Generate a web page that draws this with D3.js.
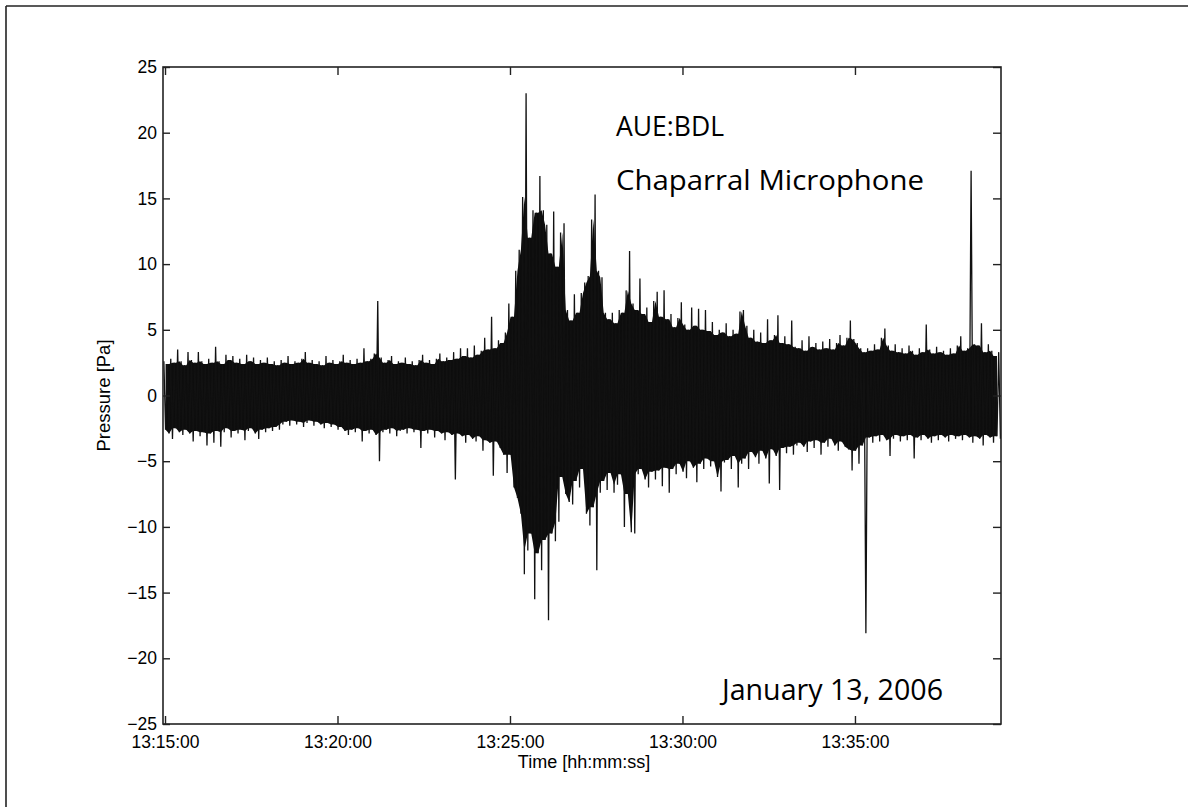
<!DOCTYPE html>
<html><head><meta charset="utf-8">
<script src="https://cdn.jsdelivr.net/npm/d3@7"></script>
<style>body{margin:0;background:#fff}svg{display:block}</style>
</head><body>
<svg id="c" width="1188" height="807"></svg>
<script>
// ---- data ----
const recordStart = "13:14:58";      // time of first envelope bin
const binSeconds = 6;                // width of one envelope bin
const xDomain = ["13:14:56.5", "13:39:14"];
// upper envelope (max pressure per bin, Pa)
const upperEnvelope = [
2.6,2.4,2.8,2.5,3.5,2.6,2.3,3.3,2.7,2.5,3.3,2.6,2.4,2.8,2.5,3.7,2.6,2.4,3.1,2.7,
3.0,2.5,2.8,2.4,3.1,2.6,2.9,2.4,2.7,2.5,2.9,2.4,2.6,2.3,2.7,2.5,3.0,2.4,2.6,2.5,
2.8,3.3,2.5,2.7,2.4,2.6,2.3,3.0,2.5,2.7,2.4,2.6,3.1,2.5,2.7,2.4,2.8,2.5,3.6,2.6,
2.8,3.2,7.2,2.9,2.5,2.7,3.0,2.4,2.6,2.5,2.9,2.4,2.6,2.3,2.7,3.1,2.5,2.7,2.4,2.8,
3.2,2.6,2.9,2.7,3.3,2.8,3.6,3.0,3.6,2.9,3.8,3.1,3.4,4.4,3.5,6.0,3.6,4.2,4.0,
4.8,7.0,6.0,9.5,11.1,15.1,23.0,12.0,14.1,13.9,16.7,14.1,13.0,10.8,14.0,9.8,12.4,13.1,6.5,5.7,
7.7,6.3,7.8,8.6,9.1,13.4,15.3,9.5,9.0,6.3,5.8,6.3,5.5,6.5,6.3,8.0,11.0,7.0,6.5,8.9,
6.2,6.7,5.6,7.2,7.9,6.0,8.0,5.8,6.2,5.2,5.9,7.1,5.4,5.0,6.7,5.3,6.6,5.0,6.5,4.9,
5.6,4.6,5.0,4.8,5.5,4.5,5.0,4.7,6.4,6.5,5.3,4.4,5.0,4.1,4.8,4.0,5.8,4.2,4.6,6.1,
4.0,4.5,3.9,5.7,3.7,
3.6,4.2,3.4,4.5,3.7,4.0,3.5,4.1,3.6,4.3,3.5,4.0,4.6,3.8,4.4,5.7,4.3,4.0,3.6,3.3,
3.6,3.4,3.9,3.5,4.4,5.1,3.8,3.4,3.9,3.3,3.6,3.2,3.8,3.4,3.1,3.6,3.3,5.4,3.5,3.2,
3.7,3.3,3.4,3.1,3.6,3.2,3.8,4.5,3.4,3.6,17.1,3.9,3.8,5.5,3.3,3.9,3.4,3.0,3.3
];
// lower envelope (min pressure per bin, Pa)
const lowerEnvelope = [
-2.6,-2.9,-3.3,-2.5,-2.8,-3.0,-2.6,-2.9,-3.5,-2.7,-3.1,-2.8,-3.8,-2.9,-3.6,-2.7,-3.9,-2.8,-2.5,-3.2,
-2.7,-2.9,-2.6,-3.4,-2.7,-2.5,-2.9,-3.3,-2.6,-2.8,-2.5,-2.7,-2.4,-2.6,-2.2,-2.0,-2.3,-1.9,-2.2,-2.0,
-2.4,-2.1,-1.9,-2.3,-2.0,-2.2,-2.5,-2.1,-2.4,-2.2,-2.6,-2.4,-2.7,-3.0,-2.6,-2.8,-2.5,-3.5,-2.7,-2.9,
-2.6,-3.0,-5.0,-2.8,-2.6,-2.9,-2.5,-3.1,-2.7,-2.6,-2.9,-2.5,-2.8,-2.6,-4.0,-2.7,-2.9,-2.6,-3.2,-2.7,
-2.9,-3.4,-2.8,-3.0,-6.4,-2.9,-3.1,-3.6,-3.0,-3.3,-3.5,-3.1,-4.2,-3.4,-3.6,-6.1,-3.5,-4.0,-4.5,
-5.9,-4.5,-7.0,-7.8,-9.0,-13.6,-11.8,-10.5,-15.5,-12.0,-13.3,-11.0,-17.1,-10.5,-11.1,-9.6,-6.2,-7.5,-8.1,-8.3,
-6.5,-7.0,-5.6,-9.0,-9.9,-8.5,-13.3,-7.4,-6.5,-7.2,-5.9,-7.4,-6.8,-6.0,-10.0,-7.5,-10.4,-10.5,-6.0,-5.6,
-6.4,-7.0,-5.8,-6.4,-5.7,-6.9,-5.5,-7.4,-5.6,-6.0,-5.2,-5.8,-6.3,-5.0,-5.5,-6.6,-5.2,-5.6,-4.8,-5.4,
-5.0,-6.2,-7.3,-5.1,-4.9,-5.6,-4.6,-7.0,-5.2,-4.8,-5.6,-4.3,-4.7,-5.2,-4.2,-4.8,-6.7,-4.1,-4.6,-7.2,
-4.0,-4.4,-3.9,-4.5,-3.8,
-3.6,-3.9,-4.3,-3.5,-4.0,-3.4,-4.5,-3.6,-3.9,-3.3,-3.8,-4.2,-3.5,-3.9,-4.1,-5.7,-4.2,-5.2,-3.8,-18.1,
-3.2,-3.6,-3.1,-3.5,-3.0,-3.4,-4.6,-3.3,-3.0,-3.5,-3.1,-3.4,-3.0,-4.8,-3.2,-3.4,-3.0,-3.3,-3.6,-3.1,
-3.4,-3.0,-3.2,-3.5,-3.0,-3.3,-3.1,-3.4,-3.0,-3.2,-3.6,-3.1,-3.3,-3.8,-3.0,-3.2,-3.6,-3.1,-3.3
];
const xTickLabels = ["13:15:00","13:20:00","13:25:00","13:30:00","13:35:00"];
const yTickValues = [-25,-20,-15,-10,-5,0,5,10,15,20,25];
const yDomain = [-25, 25];
const xAxisTitle = "Time [hh:mm:ss]";
const yAxisTitle = "Pressure [Pa]";
const annotations = ["AUE:BDL", "Chaparral Microphone", "January 13, 2006"];

// ---- helpers ----
function parseClock(s) {
  const p = s.split(":").map(Number);
  return new Date(2006, 0, 13, p[0], p[1], 0, Math.round(p[2] * 1000));
}

// ---- layout ----
const L = 163, T = 67, R = 1001, B = 724;
const svg = d3.select("#c");

const x = d3.scaleTime().domain(xDomain.map(parseClock)).range([L, R]);
const y = d3.scaleLinear().domain(yDomain).range([B, T]);

// outer frame (left & top border of the page)
svg.append("line").attr("x1", 6).attr("y1", 6).attr("x2", 1188).attr("y2", 6)
  .attr("stroke", "#222").attr("stroke-width", 1.6);
svg.append("line").attr("x1", 6).attr("y1", 6).attr("x2", 6).attr("y2", 807)
  .attr("stroke", "#222").attr("stroke-width", 1.6);

svg.append("defs").append("clipPath").attr("id", "plotclip")
  .append("rect").attr("x", L).attr("y", T).attr("width", R - L).attr("height", B - T);

const t0 = parseClock(recordStart);
const n = upperEnvelope.length;
const tAt = s => new Date(+t0 + s * 1000);

// dense body of the trace: what stays black between two neighbouring bins
const core = [];
for (let i = 0; i < n - 1; i++) {
  core.push({
    t: tAt(i * binSeconds + binSeconds / 2),
    hi: Math.min(upperEnvelope[i], upperEnvelope[i + 1]),
    lo: Math.max(lowerEnvelope[i], lowerEnvelope[i + 1])
  });
}
svg.append("path").datum(core).attr("clip-path", "url(#plotclip)")
  .attr("d", d3.area().x(d => x(d.t)).y0(d => y(d.lo)).y1(d => y(d.hi)))
  .attr("fill", "#0d0d0d");

// waveform: zig-zag through bin maxima and minima
const pts = [];
upperEnvelope.forEach((hv, i) => {
  pts.push({ t: tAt(i * binSeconds), v: hv });
  pts.push({ t: tAt(i * binSeconds + binSeconds / 2), v: lowerEnvelope[i] });
});
svg.append("path").datum(pts).attr("clip-path", "url(#plotclip)")
  .attr("d", d3.line().x(d => x(d.t)).y(d => y(d.v)))
  .attr("fill", "none").attr("stroke", "#111")
  .attr("stroke-width", 1.3).attr("stroke-linejoin", "miter");

// axes
const xTicks = xTickLabels.map(parseClock);
const fmt = d3.timeFormat("%H:%M:%S");
const font = "'Liberation Sans', Arial, Helvetica, sans-serif";

const gx = svg.append("g").attr("transform", `translate(0,${B})`)
  .call(d3.axisBottom(x).tickValues(xTicks).tickFormat(fmt).tickSize(-8).tickPadding(12));
const gxt = svg.append("g").attr("transform", `translate(0,${T})`)
  .call(d3.axisTop(x).tickValues(xTicks).tickFormat("").tickSize(-8));
const gy = svg.append("g").attr("transform", `translate(${L},0)`)
  .call(d3.axisLeft(y).tickValues(yTickValues).tickSize(-7).tickPadding(6));
const gyr = svg.append("g").attr("transform", `translate(${R},0)`)
  .call(d3.axisRight(y).tickValues(yTickValues).tickFormat("").tickSize(-8));
[gx, gxt, gy, gyr].forEach(g => {
  g.select(".domain").remove();
  g.selectAll(".tick line").attr("stroke", "#222").attr("stroke-width", 1.4);
  g.selectAll("text").attr("font-family", font).attr("font-size", 17.5).attr("fill", "#000");
});

// box
svg.append("rect").attr("x", L).attr("y", T).attr("width", R - L).attr("height", B - T)
  .attr("fill", "none").attr("stroke", "#222").attr("stroke-width", 1.6);

// axis titles
svg.append("text").attr("x", 584).attr("y", 768).attr("text-anchor", "middle")
  .attr("font-family", font).attr("font-size", 18).text(xAxisTitle);
svg.append("text").attr("transform", `translate(110,${(T + B) / 2}) rotate(-90)`)
  .attr("text-anchor", "middle").attr("font-family", font).attr("font-size", 18.5).text(yAxisTitle);

// annotations
const afont = "'Open Sans', 'Noto Sans', sans-serif";
svg.append("text").attr("x", 616).attr("y", 136).attr("font-family", afont).attr("font-size", 28)
  .attr("textLength", 108).attr("lengthAdjust", "spacingAndGlyphs").text(annotations[0]);
svg.append("text").attr("x", 616).attr("y", 190).attr("font-family", afont).attr("font-size", 28)
  .attr("textLength", 308).attr("lengthAdjust", "spacingAndGlyphs").text(annotations[1]);
svg.append("text").attr("x", 722).attr("y", 700).attr("font-family", afont).attr("font-size", 30)
  .attr("textLength", 221).attr("lengthAdjust", "spacingAndGlyphs").text(annotations[2]);
</script>
</body></html>
